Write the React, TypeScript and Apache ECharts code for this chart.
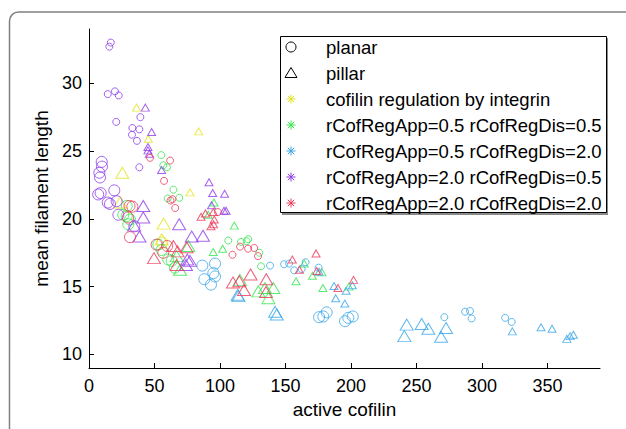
import React, { useEffect, useRef } from "react";
import * as echarts from "echarts";

const xTicks = [0, 50, 100, 150, 200, 250, 300, 350];
const yTicks = [10, 15, 20, 25, 30];

// [active cofilin, mean filament length, large marker (1) or small (0)]
const yellowPlanar = [[56.0, 18.25, 1]];
const yellowPillar = [
  [36.3, 28.2, 0], [45.3, 25.9, 0], [83.7, 26.45, 0], [77.1, 21.95, 0],
  [25.4, 23.4, 1], [23.7, 21.2, 1], [57.0, 19.65, 1], [55.4, 18.5, 1],
];
const greenPlanar = [
  [55.2, 24.7, 0], [56.7, 23.95, 0], [59.5, 23.8, 0], [64.4, 22.15, 0], [60.0, 21.5, 0],
  [68.9, 21.55, 0], [106.3, 18.4, 0], [116.0, 18.3, 0], [120.3, 18.35, 0], [121.5, 18.5, 0],
  [130.0, 17.5, 0], [131.3, 16.5, 0],
  [26.2, 20.3, 1], [28.8, 20.2, 1], [31.3, 19.95, 1], [30.0, 19.6, 1], [28.8, 20.95, 1],
  [52.9, 18.1, 1], [55.4, 17.7, 1], [60.5, 17.0, 1], [63.1, 16.9, 1], [65.6, 16.4, 1],
];
const greenPillar = [
  [95.4, 21.2, 0], [91.0, 20.3, 0], [110.9, 19.5, 0], [94.8, 17.55, 0], [102.0, 17.8, 0],
  [164.3, 16.7, 0], [158.0, 15.4, 0], [170.5, 15.8, 0], [177.8, 16.05, 0], [178.5, 14.9, 0],
  [198.4, 15.0, 0],
  [69.5, 16.25, 1], [75.8, 18.0, 1], [66.9, 17.25, 1], [115.2, 15.5, 1], [129.2, 14.65, 1],
  [136.9, 14.15, 1], [140.7, 14.9, 1], [134.3, 14.9, 1],
];
const bluePlanar = [
  [138.2, 16.55, 0], [148.9, 16.65, 0], [152.7, 16.7, 0], [156.6, 16.2, 0], [162.3, 16.3, 0],
  [165.3, 16.8, 0], [175.2, 16.4, 0], [271.2, 12.75, 0], [287.0, 13.15, 0], [290.8, 13.2, 0],
  [292.0, 12.65, 0], [317.6, 12.7, 0], [322.6, 12.4, 0],
  [86.5, 16.55, 1], [96.2, 16.7, 1], [94.9, 16.0, 1], [88.0, 15.55, 1], [93.1, 15.15, 1],
  [96.2, 15.75, 1], [175.6, 12.75, 1], [178.8, 12.8, 1], [181.4, 13.1, 1], [195.4, 12.45, 1],
  [197.9, 12.7, 1], [201.3, 12.8, 1],
];
const bluePillar = [
  [175.6, 16.1, 0], [187.0, 15.05, 0], [196.2, 14.7, 0], [201.0, 15.1, 0], [188.3, 14.15, 0],
  [195.3, 13.75, 0], [323.1, 11.7, 0], [345.0, 12.0, 0], [353.4, 11.9, 0], [364.7, 11.15, 0],
  [367.2, 11.35, 0], [369.7, 11.45, 0],
  [113.5, 14.4, 1], [114.0, 14.3, 1], [142.0, 13.15, 1], [143.3, 12.95, 1], [242.5, 12.2, 1],
  [240.7, 11.35, 1], [253.9, 12.25, 1], [259.0, 11.9, 1], [272.5, 11.95, 1], [268.7, 11.3, 1],
];
const purplePlanar = [
  [16.6, 33.0, 0], [15.5, 32.7, 0], [14.3, 29.2, 0], [19.8, 29.4, 0], [22.7, 29.1, 0],
  [20.8, 27.15, 0], [39.2, 27.5, 0], [33.1, 26.7, 0], [32.8, 26.2, 0], [38.4, 26.6, 0],
  [36.6, 25.75, 0], [38.4, 23.8, 0],
  [9.7, 24.2, 1], [9.9, 23.85, 1], [7.9, 23.4, 1], [8.4, 23.05, 1], [8.9, 21.9, 1],
  [7.0, 21.8, 1], [19.3, 22.1, 1], [14.3, 21.2, 1], [16.0, 21.1, 1], [21.1, 21.3, 1],
  [22.4, 20.3, 1], [34.6, 19.45, 1],
];
const purplePillar = [
  [43.0, 28.2, 0], [47.8, 26.4, 0], [45.0, 25.3, 0], [45.0, 25.05, 0], [46.0, 24.8, 0],
  [55.4, 23.6, 0], [91.6, 22.7, 0], [94.4, 21.9, 0], [103.5, 21.85, 0], [93.5, 21.0, 0],
  [103.0, 20.6, 0], [104.6, 20.6, 0],
  [41.4, 20.95, 1], [41.4, 20.1, 1], [34.4, 19.5, 1], [38.5, 18.7, 1], [68.8, 19.6, 1],
  [78.4, 18.7, 1], [87.0, 18.75, 1], [75.0, 17.0, 1], [77.1, 16.9, 1], [74.0, 16.6, 1],
];
const redPlanar = [
  [46.6, 24.5, 0], [61.9, 24.3, 0], [57.3, 22.8, 0], [62.2, 21.35, 0], [63.7, 21.45, 0],
  [65.8, 20.8, 0], [98.4, 20.5, 0], [109.5, 17.35, 0], [115.3, 17.95, 0], [121.4, 17.8, 0],
  [126.1, 17.85, 0], [129.0, 17.25, 0],
  [30.9, 20.95, 1], [33.1, 20.9, 1], [29.8, 20.1, 1], [31.3, 18.65, 1], [51.6, 18.1, 1],
  [56.7, 17.5, 1], [59.7, 18.0, 1],
];
const redPillar = [
  [85.5, 20.15, 0], [88.9, 20.4, 0], [94.9, 20.5, 0], [95.6, 19.95, 0], [93.1, 19.45, 0],
  [95.1, 19.6, 0], [155.2, 17.0, 0], [160.6, 16.25, 0], [173.3, 17.45, 0], [173.8, 16.15, 0],
  [201.9, 15.5, 0], [190.0, 14.9, 0],
  [49.6, 17.1, 1], [64.4, 18.0, 1], [67.6, 17.6, 1], [66.9, 16.6, 1], [74.5, 17.9, 1],
  [109.9, 15.3, 1], [114.7, 15.4, 1], [123.3, 15.9, 1], [135.3, 15.55, 1], [135.1, 14.6, 1],
  [118.3, 14.75, 1],
];

const legendLabels = [
  "planar",
  "pillar",
  "cofilin regulation by integrin",
  "rCofRegApp=0.5 rCofRegDis=0.5",
  "rCofRegApp=0.5 rCofRegDis=2.0",
  "rCofRegApp=2.0 rCofRegDis=0.5",
  "rCofRegApp=2.0 rCofRegDis=2.0",
];

const COLORS = ["#e3e31c", "#33e64d", "#38a6ea", "#8f3ceb", "#ec3859"];
const FONT = "Liberation Sans, Arial, Helvetica, sans-serif";

const groups = [
  { name: "cofilin regulation by integrin", planar: yellowPlanar, pillar: yellowPillar },
  { name: "rCofRegApp=0.5 rCofRegDis=0.5", planar: greenPlanar, pillar: greenPillar },
  { name: "rCofRegApp=0.5 rCofRegDis=2.0", planar: bluePlanar, pillar: bluePillar },
  { name: "rCofRegApp=2.0 rCofRegDis=0.5", planar: purplePlanar, pillar: purplePillar },
  { name: "rCofRegApp=2.0 rCofRegDis=2.0", planar: redPlanar, pillar: redPillar },
];

function asterisk(cx: number, cy: number, color: string) {
  const h = 4.5;
  const d = 3.2;
  const segs = [
    [cx - h, cy, cx + h, cy],
    [cx, cy - h, cx, cy + h],
    [cx - d, cy - d, cx + d, cy + d],
    [cx - d, cy + d, cx + d, cy - d],
  ];
  return segs.map((s) => ({
    type: "line",
    shape: { x1: s[0], y1: s[1], x2: s[2], y2: s[3] },
    style: { stroke: color, lineWidth: 1 },
    z: 110,
  }));
}

export default function App() {
  const ref = useRef<HTMLDivElement>(null);
  useEffect(() => {
    if (!ref.current) return;
    const chart = echarts.init(ref.current, null, { renderer: "svg" });
    const series: any[] = [];
    groups.forEach((g, i) => {
      series.push({
        type: "scatter",
        name: g.name + " planar",
        data: g.planar,
        symbol: "circle",
        symbolSize: (v: number[]) => (v[2] ? 11 : 7),
        itemStyle: { color: "rgba(0,0,0,0)", borderColor: COLORS[i], borderWidth: 1 },
        emphasis: { disabled: true },
      });
      series.push({
        type: "scatter",
        name: g.name + " pillar",
        data: g.pillar,
        symbol: "triangle",
        symbolSize: (v: number[]) => (v[2] ? [13, 11] : [8, 7]),
        itemStyle: { color: "rgba(0,0,0,0)", borderColor: COLORS[i], borderWidth: 1 },
        emphasis: { disabled: true },
      });
    });

    const lx = 291;
    const rowY = (k: number) => 47 + k * 26;
    const legend: any[] = [
      {
        type: "rect",
        shape: { x: 282, y: 38, width: 326, height: 177 },
        style: { fill: "#8a8a8a" },
        z: 100,
      },
      {
        type: "rect",
        shape: { x: 280.5, y: 36.5, width: 326, height: 176 },
        style: { fill: "#fff", stroke: "#000", lineWidth: 1 },
        z: 101,
      },
      {
        type: "circle",
        shape: { cx: lx, cy: rowY(0), r: 5 },
        style: { fill: "none", stroke: "#000", lineWidth: 1 },
        z: 110,
      },
      {
        type: "polygon",
        shape: { points: [[lx, rowY(1) - 5.5], [lx + 6, rowY(1) + 4.5], [lx - 6, rowY(1) + 4.5]] },
        style: { fill: "none", stroke: "#000", lineWidth: 1 },
        z: 110,
      },
    ];
    COLORS.forEach((c, i) => {
      legend.push(...asterisk(lx, rowY(i + 2), c));
    });
    legendLabels.forEach((t, k) => {
      legend.push({
        type: "text",
        x: 326,
        y: rowY(k),
        style: { text: t, fill: "#000", font: `18.5px ${FONT}`, textVerticalAlign: "middle" },
        z: 110,
      });
    });

    chart.setOption({
      animation: false,
      backgroundColor: "#fff",
      grid: { left: 89, right: 26, top: 29, bottom: 61 },
      xAxis: {
        type: "value",
        min: 0,
        max: 390,
        name: "active cofilin",
        nameLocation: "middle",
        nameGap: 29,
        nameTextStyle: { fontSize: 19, color: "#000", fontFamily: FONT },
        axisLine: { show: true, lineStyle: { color: "#000", width: 1 } },
        axisTick: { show: true, inside: true, length: 5, customValues: xTicks, lineStyle: { color: "#000" } },
        axisLabel: { customValues: xTicks, fontSize: 18, color: "#000", fontFamily: FONT, margin: 9 },
        splitLine: { show: false },
      },
      yAxis: {
        type: "value",
        min: 9,
        max: 34,
        name: "mean filament length",
        nameLocation: "middle",
        nameGap: 36,
        nameTextStyle: { fontSize: 19, color: "#000", fontFamily: FONT },
        axisLine: { show: true, lineStyle: { color: "#000", width: 1 } },
        axisTick: { show: true, inside: true, length: 5, customValues: yTicks, lineStyle: { color: "#000" } },
        axisLabel: { customValues: yTicks, fontSize: 18, color: "#000", fontFamily: FONT, margin: 7 },
        splitLine: { show: false },
      },
      series,
      graphic: [
        {
          type: "rect",
          shape: { x: 9.5, y: 12, width: 700, height: 500, r: 9 },
          style: { fill: "none", stroke: "#808080", lineWidth: 1.5 },
          z: 90,
        },
        ...legend,
      ],
    });
    return () => chart.dispose();
  }, []);
  return (
    <div
      ref={ref}
      style={{ position: "fixed", left: 0, top: 0, width: 626, height: 429 }}
    />
  );
}
